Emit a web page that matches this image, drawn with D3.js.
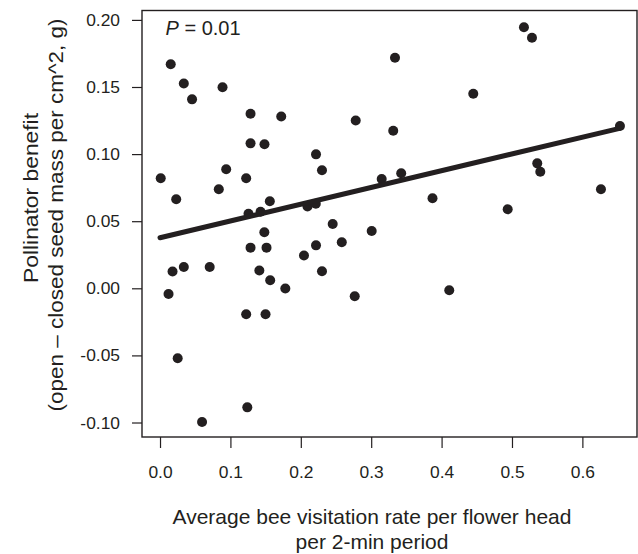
<!DOCTYPE html>
<html>
<head>
<meta charset="utf-8">
<script src="https://cdn.jsdelivr.net/npm/d3@7"></script>
<style>
  html, body { margin: 0; padding: 0; background: #fff; }
  svg { display: block; }
  text { font-family: "Liberation Sans", Arial, Helvetica, sans-serif; fill: #231f20; }
</style>
</head>
<body>
<svg id="chart" width="638" height="554"></svg>
<script>
// ---- data ----
const visitRate = [
  0.0152, 0.0338, 0.0455, 0.0888, 0.1286, 0.1722, 0.1286, 0.1484, 0.0010, 0.0940,
  0.1224, 0.0835, 0.0230, 0.1560, 0.1257, 0.1428, 0.2095, 0.2213, 0.2216, 0.2301,
  0.3338, 0.4450, 0.2780, 0.3313, 0.3149, 0.3426, 0.3871, 0.5170, 0.5284, 0.6534,
  0.5359, 0.5402, 0.4939, 0.6264, 0.1482, 0.1286, 0.1513, 0.2045, 0.0178, 0.0338,
  0.0706, 0.1411, 0.1565, 0.1780, 0.0121, 0.1224, 0.1499, 0.0251, 0.1240, 0.0597,
  0.2453, 0.3007, 0.2216, 0.2582, 0.2301, 0.2766, 0.4109
];
const benefit = [
  0.1670, 0.1526, 0.1408, 0.1498, 0.1300, 0.1280, 0.1080, 0.1074, 0.0820, 0.0887,
  0.0820, 0.0738, 0.0663, 0.0648, 0.0556, 0.0571, 0.0610, 0.0630, 0.0998, 0.0880,
  0.1718, 0.1450, 0.1250, 0.1174, 0.0814, 0.0857, 0.0671, 0.1945, 0.1867, 0.1209,
  0.0931, 0.0869, 0.0589, 0.0738, 0.0417, 0.0303, 0.0303, 0.0244, 0.0125, 0.0159,
  0.0159, 0.0133, 0.0060, -0.0001, -0.0042, -0.0193, -0.0193, -0.0521, -0.0887, -0.0996,
  0.0479, 0.0427, 0.0320, 0.0343, 0.0127, -0.0059, -0.0015
];
const fitX = [0.0, 0.653];
const fitY = [0.0377, 0.1192];
const xTicks = [0.0, 0.1, 0.2, 0.3, 0.4, 0.5, 0.6];
const yTicks = [-0.10, -0.05, 0.00, 0.05, 0.10, 0.15, 0.20];
const xTitle = ["Average bee visitation rate per flower head", "per 2-min period"];
const yTitle = ["Pollinator benefit", "(open \u2013 closed seed mass per cm^2, g)"];
const pLabel = "0.01";

// ---- layout ----
const ink = "#231f20";
const L = 142, R = 637, T = 10.5, B = 437;
const svg = d3.select("#chart");

const x = d3.scaleLinear().domain([-0.0256, 0.6776]).range([L, R]);
const y = d3.scaleLinear().domain([-0.1108, 0.2070]).range([B, T]);

// axes
const yAxis = d3.axisLeft(y).tickValues(yTicks).tickSize(10).tickPadding(12)
  .tickFormat(d => d.toFixed(2));
const gy = svg.append("g").attr("transform", `translate(${L},0)`).call(yAxis);
gy.select(".domain").remove();
gy.selectAll(".tick line").attr("stroke", ink).attr("stroke-width", 1.2);
gy.selectAll(".tick text").attr("font-size", 17.4).attr("fill", ink)
  .style("font-family", '"Liberation Sans", Arial, sans-serif');

const xAxis = d3.axisBottom(x).tickValues(xTicks).tickSize(11).tickPadding(17.6)
  .tickFormat(d => d.toFixed(1));
const gx = svg.append("g").attr("transform", `translate(0,${B})`).call(xAxis);
gx.select(".domain").remove();
gx.selectAll(".tick line").attr("stroke", ink).attr("stroke-width", 1.2);
gx.selectAll(".tick text").attr("font-size", 17.4).attr("fill", ink)
  .style("font-family", '"Liberation Sans", Arial, sans-serif');

// plot box
svg.append("rect")
  .attr("x", L).attr("y", T).attr("width", R - L).attr("height", B - T)
  .attr("fill", "none").attr("stroke", ink).attr("stroke-width", 1.4);

// points
const pts = visitRate.map((v, i) => ({ x: v, y: benefit[i] }));
svg.append("g").selectAll("circle").data(pts).join("circle")
  .attr("cx", d => x(d.x)).attr("cy", d => y(d.y)).attr("r", 5)
  .attr("fill", ink);

// fit line
const line = d3.line().x(d => x(d[0])).y(d => y(d[1]));
svg.append("path")
  .attr("d", line(fitX.map((v, i) => [v, fitY[i]])))
  .attr("fill", "none").attr("stroke", ink).attr("stroke-width", 5)
  .attr("stroke-linecap", "round");

// P label
const pt = svg.append("text").attr("x", 165.5).attr("y", 35).attr("font-size", 20);
pt.append("tspan").attr("font-style", "italic").text("P");
pt.append("tspan").text(" = " + pLabel);

// x title
svg.append("text").attr("x", 372).attr("y", 524).attr("text-anchor", "middle")
  .attr("font-size", 21).text(xTitle[0]);
svg.append("text").attr("x", 372).attr("y", 549).attr("text-anchor", "middle")
  .attr("font-size", 21).text(xTitle[1]);

// y title
svg.append("text").attr("transform", "translate(37.5,198) rotate(-90)")
  .attr("text-anchor", "middle").attr("font-size", 21)
  .attr("textLength", 170).attr("lengthAdjust", "spacingAndGlyphs")
  .text(yTitle[0]);
svg.append("text").attr("transform", "translate(62.5,215) rotate(-90)")
  .attr("text-anchor", "middle").attr("font-size", 21)
  .attr("textLength", 393).attr("lengthAdjust", "spacingAndGlyphs")
  .text(yTitle[1]);
</script>
</body>
</html>
